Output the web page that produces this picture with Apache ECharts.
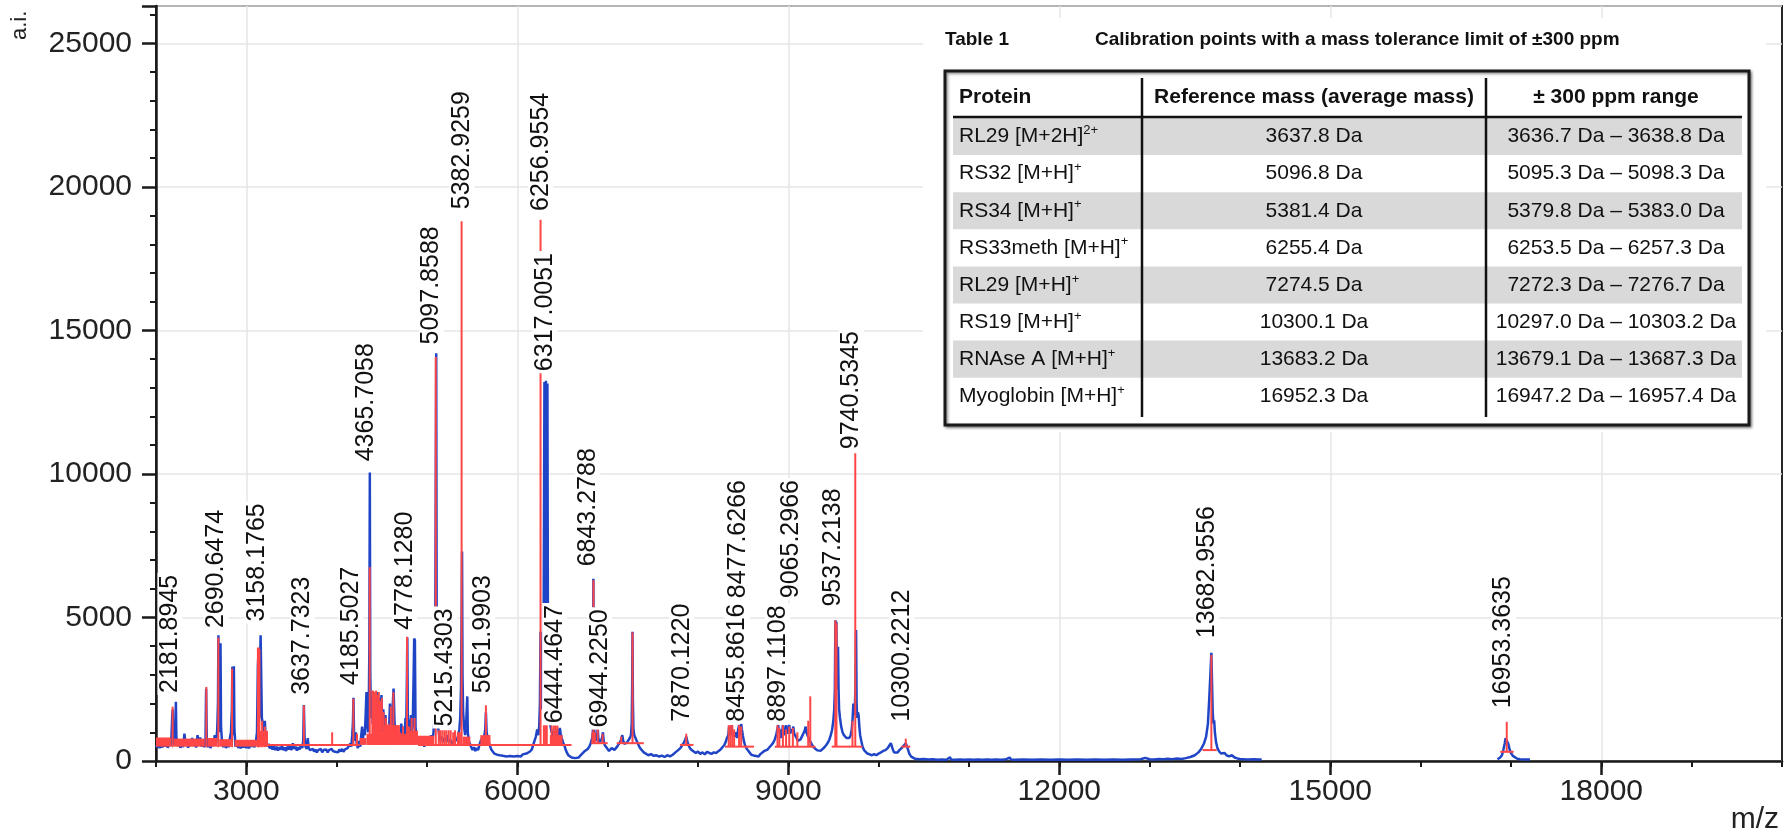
<!DOCTYPE html>
<html><head><meta charset="utf-8">
<script src="https://cdn.jsdelivr.net/npm/echarts@6/dist/echarts.min.js"></script>
<style>html,body{margin:0;padding:0;background:#fff}#c{width:1788px;height:834px}</style>
</head><body><div id="c"></div>
<script>
// ---------- DATA ----------
const xTickValues = [3000, 6000, 9000, 12000, 15000, 18000];

// blue profile spectrum [m/z, intensity]
const blueSpectrum = [
[2000,560],[2012,480],[2025,640],[2040,450],[2055,600],[2070,470],[2085,650],[2100,500],[2115,700],[2130,460],[2145,620],[2160,520],[2172,900],[2180,1600],[2186,1800],[2192,700],[2205,560],[2214,900],[2220,2060],[2226,800],[2240,520],[2255,680],[2270,460],[2285,620],[2300,480],[2315,950],[2325,600],[2340,700],[2355,460],[2370,640],[2385,520],[2400,800],[2415,520],[2430,660],[2445,470],[2460,900],[2475,600],[2490,820],[2505,500],[2520,650],[2535,480],[2548,700],[2555,2520],[2562,800],[2575,480],[2590,620],[2605,450],[2620,700],[2635,520],[2650,900],[2665,600],[2678,1100],[2686,2000],[2691,4380],[2697,1500],[2704,1000],[2710,2400],[2714,4100],[2720,1200],[2732,600],[2745,480],[2760,700],[2775,450],[2790,620],[2805,480],[2818,800],[2830,1000],[2840,1800],[2845,3280],[2850,900],[2857,1500],[2862,3300],[2868,1100],[2880,500],[2895,650],[2910,450],[2925,600],[2940,440],[2955,580],[2970,470],[2985,620],[3000,450],[3015,600],[3030,440],[3045,650],[3060,500],[3075,580],[3090,480],[3105,650],[3118,1000],[3128,3300],[3136,3900],[3143,1500],[3150,3000],[3158,4380],[3165,4350],[3172,1500],[3182,1300],[3192,900],[3205,1400],[3215,700],[3230,520],[3245,600],[3260,440],[3275,520],
[3290,400],[3305,520],[3320,380],[3335,500],[3350,360],[3365,480],[3380,400],[3395,520],[3410,380],[3425,470],[3440,350],[3455,500],[3470,400],[3485,550],[3500,380],[3515,620],[3530,420],[3545,500],[3560,360],[3575,480],[3590,400],[3605,560],[3620,450],[3630,700],[3637,1950],[3645,800],[3655,500],[3668,420],[3680,800],[3690,450],[3705,380],[3720,320],[3735,420],[3750,330],[3765,400],[3780,300],[3795,380],[3810,320],[3825,420],[3840,300],[3855,380],[3870,320],[3885,400],[3900,300],[3915,380],[3930,320],[3945,420],[3958,350],[3970,400],[3985,320],[4000,380],[4015,300],[4030,400],[4045,330],[4060,420],[4075,320],[4090,400],[4105,350],[4120,450],[4135,420],[4150,600],[4162,500],[4172,900],[4180,1300],[4186,2200],[4192,1000],[4202,700],[4212,1000],[4222,600],[4235,450],[4250,700],[4262,500],
[4272,900],[4282,1200],[4292,800],[4302,1100],[4312,900],[4322,1700],[4330,2400],[4338,1300],[4348,1000],[4356,2000],[4362,4000],[4367,10050],[4372,3000],[4380,1500],[4390,2200],[4398,1300],[4406,2400],[4414,1200],[4422,2300],[4430,1100],[4440,2350],[4448,1300],[4458,2400],[4466,1200],[4476,2200],[4486,1500],[4496,2300],[4506,1000],[4516,1800],[4528,900],[4540,1600],[4552,800],[4565,1200],[4578,900],[4590,2000],[4600,1300],[4612,1000],[4622,2000],[4630,2520],[4640,1400],[4652,900],[4665,1100],[4678,800],[4690,1000],[4702,700],[4715,1300],[4728,900],[4740,1200],[4752,800],[4762,1500],[4770,1100],[4778,3000],[4782,4300],[4788,1500],[4798,1200],[4810,900],[4822,1600],[4832,1000],[4842,1200],[4852,3000],[4858,4270],[4866,4200],[4873,1200],[4884,800],[4896,700],
[4910,600],[4925,750],[4940,550],[4955,700],[4970,500],[4985,650],[5000,550],[5015,800],[5030,600],[5045,900],[5060,700],[5072,1000],[5082,1500],[5090,3000],[5096,9000],[5102,14200],[5107,5000],[5112,2000],[5122,1200],[5135,900],[5150,700],[5165,850],[5180,650],[5195,800],[5210,700],[5225,900],[5240,650],[5255,750],[5270,600],[5285,700],[5300,600],[5315,800],[5330,700],[5345,900],[5358,1100],[5368,1500],[5376,2500],[5383,5000],[5388,7300],[5393,3000],[5400,1700],[5410,1200],[5422,900],[5432,1200],[5440,1800],[5446,2250],[5452,1000],[5462,700],[5475,600],[5490,480],[5505,380],[5520,480],[5535,350],[5550,450],[5565,380],[5580,550],[5595,700],[5610,800],[5622,700],[5635,900],[5645,1100],[5652,1700],[5660,1000],[5672,800],[5685,650],[5700,500],[5715,380],[5730,320],
[5745,260],[5760,300],[5775,220],[5790,270],[5805,200],[5820,250],[5840,180],[5860,230],[5880,160],[5900,220],[5920,170],[5940,230],[5960,160],[5980,210],[6000,170],[6020,220],[6040,160],[6060,230],[6080,180],[6100,260],[6120,220],[6140,330],[6160,400],[6175,550],[6190,700],[6205,850],[6220,1100],[6232,900],[6242,1200],[6250,2000],[6257,4500],[6264,1800],[6275,2500],[6284,3500],[6292,5600],[6300,13200],[6305,5500],[6311,5600],[6317,13250],[6322,5400],[6327,5500],[6333,13150],[6339,4000],[6347,2000],[6356,1400],[6368,1200],[6380,1000],[6395,900],[6410,1050],[6425,850],[6440,1100],[6450,1150],[6460,900],[6470,1150],[6480,950],[6492,800],[6505,650],[6520,550],[6535,400],[6550,280],[6565,200],[6580,150],
[6600,120],[6620,150],[6640,100],[6660,160],[6680,120],[6700,200],[6720,260],[6740,330],[6760,300],[6780,420],[6800,520],[6815,650],[6828,800],[6836,1000],[6842,6350],[6848,1200],[6858,900],[6870,700],[6882,800],[6890,1150],[6897,800],[6908,650],[6920,600],[6932,750],[6940,850],[6948,1000],[6956,700],[6968,550],[6985,480],[7000,420],[7015,350],[7030,330],[7045,450],[7060,420],[7075,380],[7090,420],[7105,500],[7120,550],[7135,650],[7150,750],[7162,900],[7172,700],[7185,600],[7200,550],[7215,650],[7230,700],[7245,800],[7258,900],[7266,1300],[7271,2500],[7275,4500],[7279,2200],[7285,1100],[7295,900],[7308,800],[7322,700],[7335,600],[7350,500],[7365,420],[7380,360],[7400,300],[7420,250],
[7450,200],[7480,240],[7510,180],[7540,200],[7570,150],[7600,190],[7630,140],[7660,200],[7690,160],[7720,220],[7750,300],[7780,380],[7805,450],[7825,550],[7845,650],[7860,750],[7870,850],[7880,700],[7895,550],[7910,450],[7930,380],[7950,330],[7975,280],[8000,330],[8025,250],[8050,300],[8075,230],[8100,320],[8125,280],[8150,250],[8175,300],[8200,280],[8225,340],[8250,400],[8270,480],[8290,550],[8305,650],
[8320,800],[8335,900],[8345,1200],[8352,900],[8362,1000],[8372,1250],[8380,900],[8392,1000],[8405,850],[8420,1000],[8432,800],[8445,1100],[8455,1250],[8462,900],[8470,1000],[8478,1300],[8486,1100],[8496,900],[8508,700],[8520,550],[8535,450],[8550,380],[8570,300],[8590,220],[8610,160],[8630,180],[8650,220],[8670,160],[8690,240],
[8710,300],[8730,340],[8750,300],[8770,400],[8790,460],[8810,550],[8830,620],[8850,750],[8865,900],[8878,1100],[8888,1250],[8896,1000],[8906,1100],[8918,800],[8930,950],[8940,1250],[8950,900],[8962,1000],[8975,1250],[8985,950],[8998,1100],[9010,1250],[9020,950],[9032,1100],[9045,1000],[9055,1200],[9065,950],[9078,900],[9092,800],[9105,700],[9120,650],[9135,750],[9150,850],[9165,950],[9180,1050],[9192,1200],[9200,1000],[9212,900],[9225,800],[9238,700],[9250,650],[9265,550],[9280,480],[9300,420],[9320,370],[9340,330],[9360,360],[9380,420],[9400,480],[9420,560],[9440,650],
[9455,750],[9470,900],[9485,1100],[9498,1400],[9508,1800],[9515,2500],[9521,4900],[9527,3000],[9532,4850],[9538,2500],[9545,3000],[9550,3980],[9556,2500],[9562,1800],[9572,1500],[9585,1200],[9600,1000],[9615,900],[9630,850],[9645,800],[9660,750],[9675,800],[9690,900],[9702,1100],[9712,1500],[9720,2000],[9728,1600],[9735,1700],[9742,2500],[9750,4560],[9756,2000],[9762,1500],[9770,1700],[9778,1600],[9786,1200],[9795,900],[9808,700],[9822,500],[9838,380],[9855,320],[9875,260],[9900,230],[9925,200],[9950,240],[9975,200],[10000,260],[10025,300],[10050,350],[10075,380],[10100,450],[10120,550],[10135,620],[10145,650],[10155,420],[10170,300],[10190,250],[10210,300],[10230,380],[10250,430],[10270,500],[10288,560],[10300,620],[10312,520],[10325,400],[10340,250],[10360,150],[10380,100],[10400,80],
[10450,60],[10500,70],[10550,50],[10600,60],[10650,45],[10700,55],[10750,45],[10790,130],[10800,50],[10850,45],[10900,55],[10950,45],[11000,50],[11050,45],[11100,55],[11150,45],[11200,50],[11250,45],[11300,50],[11350,45],[11400,50],[11450,120],[11465,50],[11500,45],[11600,50],[11700,45],[11800,50],[11900,45],[12000,50],[12100,45],[12200,50],[12300,45],[12400,50],[12500,45],[12600,50],[12700,45],[12800,55],[12900,60],[12950,110],[12960,50],[13000,60],[13050,55],[13100,70],[13150,60],[13200,75],[13250,65],[13300,85],[13350,70],[13400,100],[13450,140],[13500,200],[13540,300],[13570,420],[13600,600],[13625,850],[13645,1300],[13660,2200],[13672,3000],[13683,3770],[13690,2800],[13698,1700],[13706,1300],[13714,1420],[13722,1000],[13735,650],[13750,450],[13770,330],[13790,260],[13810,220],[13830,280],[13850,200],[13880,160],[13910,200],[13940,120],[13970,90],[14000,70],[14050,60],[14100,55],[14150,60],[14200,50],[14240,55]
];
const blueSpectrumMyoglobin = [
[16850,60],[16880,120],[16900,200],[16915,380],[16930,600],[16940,790],[16947,780],[16953,790],[16960,790],[16970,600],[16985,400],[17000,280],[17020,180],[17040,120],[17070,80],[17100,60],[17150,55],[17210,50]
];

// red centroid sticks [m/z, base intensity, top intensity]
const redSticks = [
[2184,480,1890],[2557,480,2580],[2690,480,4300],[2842,480,3220],[3128,480,3950],[3136,480,3950],[3145,480,3900],[3175,480,1400],[3205,480,1200],
[3637,560,1940],[3950,560,1000],[4185,560,2170],[4225,560,950],[4366,560,6750],[4395,560,2450],[4405,560,2450],[4420,560,2400],[4436,560,2450],[4450,560,2300],[4466,560,2400],[4480,560,2100],[4500,560,2200],[4520,560,1700],[4545,560,1500],[4575,560,1300],[4600,560,1900],[4628,560,2400],[4660,560,1200],[4700,560,1000],[4735,560,1200],[4779,560,4325],[4800,560,1200],[4830,560,1500],[4862,560,1500],
[5097,560,14070],[5130,560,1070],[5150,560,1070],[5172,560,1070],[5195,560,1070],[5215,560,1070],[5240,560,1070],[5262,560,1070],[5290,560,1000],[5310,560,1070],[5383,560,18800],[5652,560,1940],[5690,560,900],
[6257,560,18850],[6294,560,5500],[6310,560,5500],[6326,560,5500],[6380,560,1240],[6405,560,1240],[6425,560,1240],[6444,560,1240],
[6843,600,6300],[6890,600,1150],[6944,600,950],[7150,600,850],[7275,600,4480],[7870,550,950],
[8340,500,1250],[8360,500,1250],[8380,500,1250],[8400,500,1100],[8455,500,1250],[8478,500,1200],
[8880,500,1250],[8900,500,1150],[8940,500,1250],[8975,500,1100],[9010,500,1200],[9050,500,1150],[9100,500,1000],[9220,500,1400],[9243,500,2250],
[9520,500,4900],[9533,500,4800],[9710,500,1400],[9741,500,10720],[10300,500,780],[13683,380,3690],[16953,320,1364]
];
// dense red centroid bands [start m/z, end m/z, low, high]
const redBands = [
[2000,2170,500,820],[2195,2540,500,780],[2570,2680,500,800],[2700,2835,500,760],[2870,3120,500,740],[3120,3240,500,1050],
[4255,4330,560,800],[4330,4520,560,950],[4520,4700,560,1250],[4700,4775,560,950],[4785,4900,560,1050],[4900,5080,560,880],[5330,5375,560,1000],[5395,5480,560,850],[5590,5700,560,900],[6360,6500,560,900],[6820,6870,600,1000]
];
// red peak-base lines [start m/z, end m/z, intensity]
const redBaselines = [
[3240,4255,560],[4900,6600,560],[6820,7000,620],[7100,7400,620],[7800,7950,560],[8300,8620,500],[8850,9300,500],[9480,9820,500],[10250,10350,500],[13585,13742,380],[16881,17030,320]
];

// peak annotations: text, m/z where each label sits, intensity where each label starts
const peakLabels = ['2181.8945','2690.6474','3158.1765','3637.7323','4185.5027','4365.7058','4778.1280','5097.8588','5215.4303','5382.9259','5651.9903','6256.9554','6317.0051','6444.4647','6843.2788','6944.2250','7870.1220','8455.8616','8477.6266','8897.1108','9065.2966','9537.2138','9740.5345','10300.2212','13682.9556','16953.3635'];
const labelPositions = [2155,2665,3124,3620,4158,4330,4755,5050,5198,5388,5618,6258,6306,6413,6778,6911,7820,8438,8440,8882,9030,9497,9700,10259,13631,16916];
const labelBottoms = [2300,4560,4790,2235,2580,10370,4500,14440,1130,19150,2290,19090,13510,1245,6710,1100,1300,1300,5600,1300,5600,5310,10790,1300,4210,1770];

// calibration table
const tableTitleNo = 'Table 1';
const tableTitle = 'Calibration points with a mass tolerance limit of \u00b1300 ppm';
const tableHeaders = ['Protein', 'Reference mass (average mass)', '\u00b1 300 ppm range'];
const proteins = ['RL29 [M+2H]', 'RS32 [M+H]', 'RS34 [M+H]', 'RS33meth [M+H]', 'RL29 [M+H]', 'RS19 [M+H]', 'RNAse A [M+H]', 'Myoglobin [M+H]'];
const charges = ['2+', '+', '+', '+', '+', '+', '+', '+'];
const refMasses = ['3637.8 Da', '5096.8 Da', '5381.4 Da', '6255.4 Da', '7274.5 Da', '10300.1 Da', '13683.2 Da', '16952.3 Da'];
const ppmRanges = ['3636.7 Da \u2013 3638.8 Da', '5095.3 Da \u2013 5098.3 Da', '5379.8 Da \u2013 5383.0 Da', '6253.5 Da \u2013 6257.3 Da', '7272.3 Da \u2013 7276.7 Da', '10297.0 Da \u2013 10303.2 Da', '13679.1 Da \u2013 13687.3 Da', '16947.2 Da \u2013 16957.4 Da'];

// ---------- CHART ----------
const FONT = '"Liberation Sans", Arial, Helvetica, sans-serif';
const RED = '#ff4646', BLUE = '#1f45c6', AXIS = '#1a1a1a', GRID = '#e6e6e6';
const chart = echarts.init(document.getElementById('c'), null, {renderer: 'canvas'});

const labelData = peakLabels.map((t, i) => [labelPositions[i], labelBottoms[i]]);

// table graphics
const TX = 945, TY = 71, TW = 804, TH = 354;
const innerL = 953, innerR = 1742, col1 = 1142, col2 = 1486;
const rowTop = 118, rowH = 37.1;
const tableEls = [];
tableEls.push({type: 'rect', shape: {x: 923, y: 18, width: 843, height: 414}, style: {fill: '#fff'}});
tableEls.push({type: 'text', x: TX, y: 40, style: {text: tableTitleNo, font: 'bold 19px ' + FONT, fill: '#111', verticalAlign: 'middle'}});
tableEls.push({type: 'text', x: 1095, y: 40, style: {text: tableTitle, font: 'bold 19px ' + FONT, fill: '#111', verticalAlign: 'middle'}});
tableEls.push({type: 'rect', shape: {x: TX, y: TY, width: TW, height: TH}, style: {fill: '#fff', stroke: '#1a1a1a', lineWidth: 3, shadowBlur: 3, shadowColor: 'rgba(0,0,0,0.45)', shadowOffsetX: 1.5, shadowOffsetY: 1.5}});
proteins.forEach((p, i) => {
  const y = rowTop + i * rowH;
  if (i % 2 === 0) tableEls.push({type: 'rect', shape: {x: innerL, y: y, width: innerR - innerL, height: rowH}, style: {fill: '#d9d9d9'}});
  const cy = y + rowH / 2;
  tableEls.push({type: 'text', x: 959, y: cy, style: {text: p + '{sup|' + charges[i] + '}', font: '21px ' + FONT, fill: '#111', verticalAlign: 'middle',
    rich: {sup: {fontSize: 13, fontFamily: FONT, fill: '#111', padding: [0, 0, 12, 0]}}}});
  tableEls.push({type: 'text', x: (col1 + col2) / 2, y: cy, style: {text: refMasses[i], font: '21px ' + FONT, fill: '#111', align: 'center', verticalAlign: 'middle'}});
  tableEls.push({type: 'text', x: (col2 + innerR) / 2 + 2, y: cy, style: {text: ppmRanges[i], font: '21px ' + FONT, fill: '#111', align: 'center', verticalAlign: 'middle'}});
});
tableEls.push({type: 'text', x: 959, y: 97, style: {text: tableHeaders[0], font: 'bold 21px ' + FONT, fill: '#111', verticalAlign: 'middle'}});
tableEls.push({type: 'text', x: (col1 + col2) / 2, y: 97, style: {text: tableHeaders[1], font: 'bold 21px ' + FONT, fill: '#111', align: 'center', verticalAlign: 'middle'}});
tableEls.push({type: 'text', x: (col2 + innerR) / 2 + 2, y: 97, style: {text: tableHeaders[2], font: 'bold 21px ' + FONT, fill: '#111', align: 'center', verticalAlign: 'middle'}});
tableEls.push({type: 'line', shape: {x1: innerL, y1: 117, x2: innerR, y2: 117}, style: {stroke: '#111', lineWidth: 2.5}});
tableEls.push({type: 'line', shape: {x1: col1, y1: 78, x2: col1, y2: 417}, style: {stroke: '#111', lineWidth: 2.5}});
tableEls.push({type: 'line', shape: {x1: col2, y1: 78, x2: col2, y2: 417}, style: {stroke: '#111', lineWidth: 2.5}});
tableEls.forEach(e => { e.z = 100; });

// axis titles
tableEls.push({type: 'text', z: 100, x: 20, y: 40, rotation: Math.PI / 2, style: {text: 'a.i.', font: '22px ' + FONT, fill: '#222', align: 'left', verticalAlign: 'middle'}});
tableEls.push({type: 'text', z: 100, x: 1779, y: 820, style: {text: 'm/z', font: '30px ' + FONT, fill: '#222', align: 'right', verticalAlign: 'middle'}});

const option = {
  animation: false,
  backgroundColor: '#fff',
  grid: {left: 156, right: 6, top: 6, bottom: 73, show: true, borderColor: '#262626', borderWidth: 2, containLabel: false},
  xAxis: [
    {type: 'value', min: 2000, max: 20000, interval: 1000,
      axisLine: {show: true, onZero: false, lineStyle: {color: AXIS, width: 2.5}},
      axisTick: {show: true, customValues: xTickValues, length: 14, lineStyle: {color: AXIS, width: 2.5}},
      axisLabel: {customValues: xTickValues, fontSize: 30, fontFamily: FONT, color: '#222', margin: 16,
        formatter: v => (v % 3000 === 0 ? String(v) : '')},
      splitLine: {show: true, lineStyle: {color: GRID, width: 1.5}}},
    {type: 'value', min: 2000, max: 20000, interval: 1000, position: 'bottom', offset: 0,
      axisLine: {show: false}, axisTick: {show: true, length: 6, lineStyle: {color: AXIS, width: 2}},
      axisLabel: {show: false}, splitLine: {show: false}}
  ],
  yAxis: {type: 'value', min: 0, max: 26300, interval: 5000,
    axisLine: {show: true, onZero: false, lineStyle: {color: AXIS, width: 2.5}},
    axisTick: {show: true, length: 14, lineStyle: {color: AXIS, width: 2.5}},
    minorTick: {show: true, splitNumber: 5, length: 6, lineStyle: {color: AXIS, width: 2}},
    axisLabel: {fontSize: 30, fontFamily: FONT, color: '#222', margin: 24, showMaxLabel: false,
      formatter: v => (v % 5000 === 0 ? String(v) : '')},
    splitLine: {show: true, lineStyle: {color: GRID, width: 1.5}}},
  series: [
    {type: 'line', name: 'profile', data: blueSpectrum, showSymbol: false, symbol: 'none', z: 2,
      lineStyle: {color: BLUE, width: 2.5}, itemStyle: {color: BLUE}, silent: true},
    {type: 'line', name: 'profile2', data: blueSpectrumMyoglobin, showSymbol: false, symbol: 'none', z: 2,
      lineStyle: {color: BLUE, width: 2.5}, itemStyle: {color: BLUE}, silent: true},
    {type: 'custom', name: 'bands', data: redBands, z: 3, silent: true, encode: {x: [0, 1], y: [2, 3]},
      renderItem: (params, api) => {
        const p0 = api.coord([api.value(0), api.value(3)]);
        const p1 = api.coord([api.value(1), api.value(2)]);
        return {type: 'rect', shape: {x: p0[0], y: p0[1], width: p1[0] - p0[0], height: p1[1] - p0[1]}, style: {fill: RED}};
      }},
    {type: 'custom', name: 'baselines', data: redBaselines, z: 3, silent: true, encode: {x: [0, 1], y: 2},
      renderItem: (params, api) => {
        const p0 = api.coord([api.value(0), api.value(2)]);
        const p1 = api.coord([api.value(1), api.value(2)]);
        return {type: 'line', shape: {x1: p0[0], y1: p0[1], x2: p1[0], y2: p1[1]}, style: {stroke: RED, lineWidth: 2}};
      }},
    {type: 'custom', name: 'sticks', data: redSticks, z: 4, silent: true, encode: {x: 0, y: [1, 2]},
      renderItem: (params, api) => {
        const p0 = api.coord([api.value(0), api.value(1)]);
        const p1 = api.coord([api.value(0), api.value(2)]);
        return {type: 'line', shape: {x1: p0[0], y1: p0[1], x2: p1[0], y2: p1[1]}, style: {stroke: RED, lineWidth: 2}};
      }},
    {type: 'custom', name: 'labels', data: labelData, z: 10, silent: true, encode: {x: 0, y: 1},
      renderItem: (params, api) => {
        const p = api.coord([api.value(0), api.value(1)]);
        return {type: 'text', x: p[0], y: p[1], rotation: Math.PI / 2,
          style: {text: peakLabels[params.dataIndex], font: '25px ' + FONT, fill: '#111', align: 'left', verticalAlign: 'middle',
            backgroundColor: '#fff', padding: [0, 2, 0, 2]}};
      }}
  ],
  graphic: {elements: tableEls}
};
chart.setOption(option);
</script>
</body></html>
